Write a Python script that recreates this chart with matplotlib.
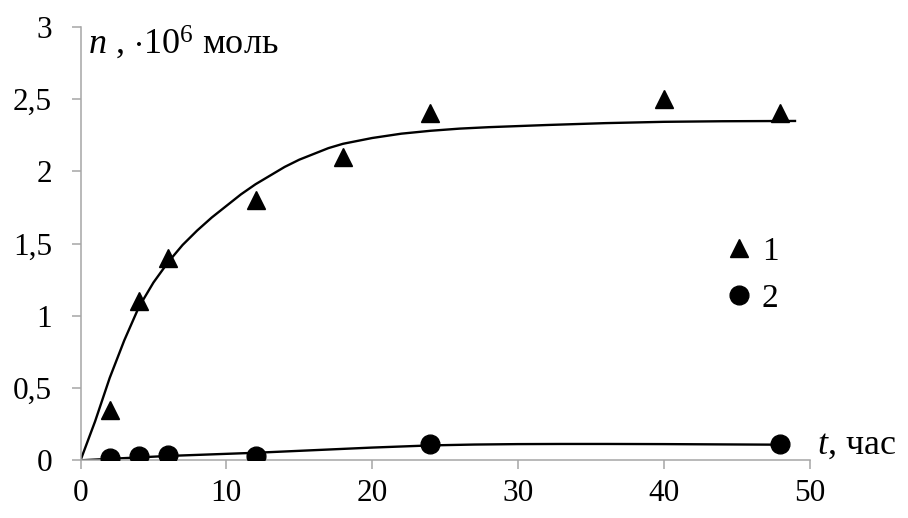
import matplotlib
matplotlib.use("Agg")
import matplotlib.pyplot as plt

plt.rcParams['font.family'] = ['Liberation Serif', 'DejaVu Serif']
plt.rcParams['mathtext.fontset'] = 'custom'
plt.rcParams['mathtext.rm'] = 'Liberation Serif'
plt.rcParams['mathtext.it'] = 'Liberation Serif:italic'

# экспериментальные точки
t1 = [2, 4, 6, 12, 18, 24, 40, 48]
n1 = [0.35, 1.1, 1.4, 1.8, 2.1, 2.4, 2.5, 2.4]
t2 = [2, 4, 6, 12, 24, 48]
n2 = [0.015, 0.03, 0.035, 0.03, 0.115, 0.115]

# сглаженные кривые
tc1 = [0, 1, 2, 3, 4, 5, 6, 7, 8, 9, 10, 11, 12, 13, 14, 15, 16, 17, 18,
       20, 22, 24, 26, 28, 32, 36, 40, 44, 49]
nc1 = [0, 0.27, 0.57, 0.83, 1.06, 1.23, 1.37, 1.49, 1.59, 1.68, 1.76, 1.84,
       1.91, 1.97, 2.03, 2.08, 2.12, 2.16, 2.19, 2.23, 2.26, 2.28, 2.295,
       2.305, 2.32, 2.333, 2.342, 2.346, 2.348]
tc2 = [0, 2, 4, 6, 9, 12, 16, 20, 24, 27, 30, 33, 36, 40, 44, 48]
nc2 = [0, 0.01, 0.02, 0.03, 0.041, 0.052, 0.07, 0.088, 0.103, 0.109, 0.112,
       0.113, 0.113, 0.112, 0.110, 0.108]

xticks = [0, 10, 20, 30, 40, 50]
yticks = [0, 0.5, 1, 1.5, 2, 2.5, 3]
ylabels = ['0', '0,5', '1', '1,5', '2', '2,5', '3']

fig = plt.figure(figsize=(9.08, 5.18), dpi=100)
ax = fig.add_axes([0.0887, 0.1114, 0.8029, 0.837])

ax.plot(tc1, nc1, color='black', lw=1.7, zorder=2)
ax.plot(tc2, nc2, color='black', lw=1.7, zorder=2)
ax.plot(t1, n1, '^', color='black', ms=13.5, ls='none', label='1', zorder=3)
ax.plot(t2, n2, 'o', color='black', ms=13.5, ls='none', label='2', zorder=3)

ax.set_xlim(0, 50)
ax.set_ylim(0, 3)
ax.set_xticks(xticks)
ax.set_yticks(yticks)
ax.set_yticklabels(ylabels)

for s in ['top', 'right']:
    ax.spines[s].set_visible(False)
for s in ['left', 'bottom']:
    ax.spines[s].set_color('#a6a6a6')
    ax.spines[s].set_linewidth(1.1)
ax.tick_params(axis='both', colors='#a6a6a6', length=6.5, width=1.1,
               labelsize=22.5, labelcolor='black')
ax.tick_params(axis='y', pad=14)
ax.tick_params(axis='x', pad=7)

ax.text(0.0107, 0.9387, r'$n$ , $\cdot$10$^6$ моль', transform=ax.transAxes,
        fontsize=26, ha='left', va='baseline')
ax.text(1.0107, 0.016, r'$t$, час', transform=ax.transAxes,
        fontsize=26, ha='left', va='baseline', clip_on=False)

ax.legend(loc='center left', bbox_to_anchor=(0.882, 0.427), frameon=False,
          fontsize=24, handlelength=0.95, handletextpad=0.2, borderpad=0,
          labelspacing=0.5, borderaxespad=0)

fig.savefig('out.png', dpi=100)
